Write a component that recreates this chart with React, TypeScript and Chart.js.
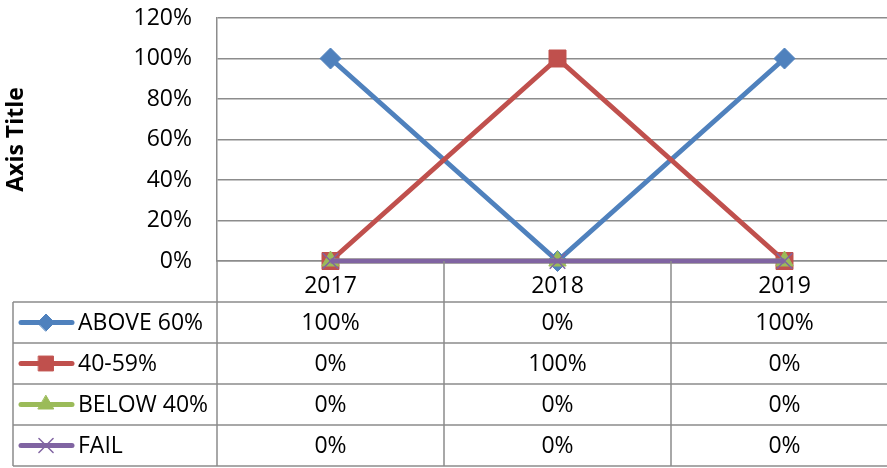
import React, { useEffect, useRef } from "react";
import { Chart, registerables } from "chart.js";
import { drawPoint } from "chart.js/helpers";

Chart.register(...registerables);

const categories = ["2017", "2018", "2019"];
const seriesNames = ["ABOVE 60%", "40-59%", "BELOW 40%", "FAIL"];
const above60 = [1, 0, 1];
const mid4059 = [0, 1, 0];
const below40 = [0, 0, 0];
const fail = [0, 0, 0];
const yTicks = [0, 0.2, 0.4, 0.6, 0.8, 1.0, 1.2];
const yAxisTitle = "Axis Title";

const colors = ["#4F81BD", "#C0504D", "#9BBB59", "#8064A2"];
const pointStyles = ["rectRot", "rect", "triangle", "crossRot"];
const pointRadii = [10.5, 12, 10, 11];
const legendRadii = [8.5, 10.5, 9, 10];
const FONT = "'Open Sans', 'Liberation Sans', sans-serif";
const FONT_SIZE = 23;
const GRID = "#8c8c8c";

const fmtPct = (v: number) => Math.round(v * 100) + "%";

const tablePlugin = {
  id: "dataTable",
  afterDraw(chart: any) {
    const { ctx, chartArea } = chart;
    const x = chart.scales.x;
    const allValues = [above60, mid4059, below40, fail];
    const tableLeft = 13;
    const headerBottom = x.bottom;
    const tableBottom = chart.height - 2;
    const rowH = (tableBottom - headerBottom) / seriesNames.length;
    const step = x.getPixelForValue(1) - x.getPixelForValue(0);

    ctx.save();
    ctx.strokeStyle = GRID;
    ctx.lineWidth = 1.5;
    ctx.beginPath();
    for (let r = 0; r <= seriesNames.length; r++) {
      const yy = headerBottom + r * rowH;
      ctx.moveTo(tableLeft, yy);
      ctx.lineTo(chartArea.right, yy);
    }
    ctx.moveTo(tableLeft, headerBottom);
    ctx.lineTo(tableLeft, tableBottom);
    ctx.moveTo(chartArea.left, chartArea.bottom);
    ctx.lineTo(chartArea.left, tableBottom);
    for (let i = 0; i < categories.length; i++) {
      const xx = x.getPixelForValue(i) + step / 2;
      ctx.moveTo(xx, chartArea.bottom);
      ctx.lineTo(xx, tableBottom);
    }
    ctx.stroke();

    ctx.font = `${FONT_SIZE}px ${FONT}`;
    ctx.fillStyle = "#000";
    ctx.textBaseline = "middle";
    for (let r = 0; r < seriesNames.length; r++) {
      const cy = headerBottom + r * rowH + rowH / 2;
      ctx.save();
      ctx.strokeStyle = colors[r];
      ctx.lineWidth = 5;
      ctx.lineCap = "round";
      ctx.beginPath();
      ctx.moveTo(21, cy);
      ctx.lineTo(72, cy);
      ctx.stroke();
      ctx.fillStyle = colors[r];
      ctx.strokeStyle = colors[r];
      ctx.lineWidth = r === 3 ? 1.5 : 1;
      drawPoint(
        ctx,
        { pointStyle: pointStyles[r], rotation: 0, radius: legendRadii[r], borderWidth: ctx.lineWidth },
        46,
        cy
      );
      ctx.restore();
      ctx.fillStyle = "#000";
      ctx.textAlign = "left";
      ctx.fillText(seriesNames[r], 78, cy + 1);
      ctx.textAlign = "center";
      for (let i = 0; i < categories.length; i++) {
        ctx.fillText(fmtPct(allValues[r][i]), x.getPixelForValue(i), cy + 1);
      }
    }
    ctx.restore();
  },
};

export default function App() {
  const ref = useRef<HTMLCanvasElement | null>(null);
  useEffect(() => {
    if (!ref.current) return;
    const allValues = [above60, mid4059, below40, fail];
    const chart = new Chart(ref.current, {
      type: "line",
      data: {
        labels: categories,
        datasets: seriesNames.map((name, i) => ({
          label: name,
          data: allValues[i],
          borderColor: colors[i],
          backgroundColor: colors[i],
          borderWidth: 5,
          pointStyle: pointStyles[i] as any,
          pointRadius: pointRadii[i],
          pointBorderWidth: i === 3 ? 1.5 : 1,
          pointBorderColor: colors[i],
          pointBackgroundColor: colors[i],
          order: 3 - i,
          tension: 0,
          clip: false as any,
        })),
      },
      options: {
        animation: false,
        responsive: false,
        devicePixelRatio: 1,
        layout: { autoPadding: false, padding: { top: 18, right: 2, bottom: 166, left: 0 } },
        plugins: {
          legend: { display: false },
          tooltip: { enabled: false },
        },
        scales: {
          x: {
            type: "category",
            offset: true,
            grid: { display: false },
            border: { display: true, color: GRID, width: 1.5 },
            ticks: {
              color: "#000",
              font: { family: FONT, size: FONT_SIZE },
              padding: 4,
              maxRotation: 0,
            },
            afterFit: (s: any) => {
              s.height = 41;
              s.paddingLeft = 0;
              s.paddingRight = 0;
            },
          },
          y: {
            min: 0,
            max: 1.2,
            afterBuildTicks: (s: any) => {
              s.ticks = yTicks.map((v) => ({ value: v }));
            },
            grid: { color: GRID, lineWidth: 1.5, drawTicks: false },
            border: { display: true, color: GRID, width: 1.5 },
            ticks: {
              color: "#000",
              font: { family: FONT, size: FONT_SIZE },
              padding: 25,
              callback: (v: any) => fmtPct(Number(v)),
            },
            title: {
              display: true,
              text: yAxisTitle,
              color: "#000",
              font: { family: FONT, size: 23, weight: "bold" },
              padding: { top: 3, bottom: 4 },
            },
            afterFit: (s: any) => {
              s.width = 217;
              s.paddingTop = 0;
              s.paddingBottom = 0;
            },
          },
        },
      },
      plugins: [tablePlugin],
    });
    return () => chart.destroy();
  }, []);
  return (
    <div
      style={{
        position: "absolute",
        left: 0,
        top: 0,
        width: 887,
        height: 468,
        overflow: "hidden",
        background: "#fff",
      }}
    >
      <div style={{ position: "relative", width: 900, height: 468 }}>
        <canvas ref={ref} width={900} height={468} style={{ display: "block", width: 900, height: 468 }} />
      </div>
    </div>
  );
}
